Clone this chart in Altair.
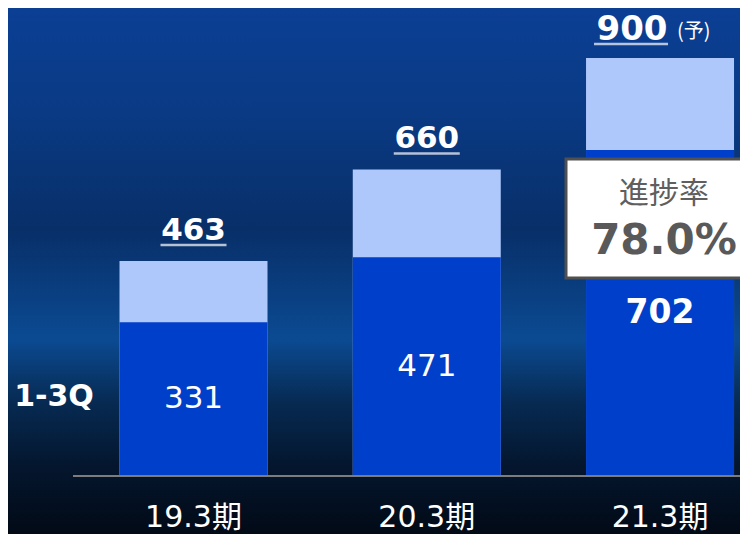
import altair as alt
import pandas as pd

# ---- data ----
periods = ["19.3期", "20.3期", "21.3期"]
q13_values = [331, 471, 702]
full_year_values = [463, 660, 900]
forecast_note = "(予)"
progress_title = "進捗率"
progress_value = "78.0%"
series_label = "1-3Q"

df = pd.DataFrame({
    "i": [0, 1, 2],
    "period": periods,
    "q": q13_values,
    "full": full_year_values,
})
one = pd.DataFrame({"k": [0]})

W, H = 732, 526
FONT = "DejaVu Sans, Noto Sans CJK JP, sans-serif"
CJK = "Noto Sans CJK JP, sans-serif"

xs = alt.Scale(domain=[-0.7738, 2.3214], nice=False, zero=False)
ys = alt.Scale(domain=[-124.9, 1007.7], nice=False, zero=False)
X = alt.X("i:Q", scale=xs, axis=None)

# background gradient
bg = alt.Chart(one).mark_rect(
    fill=alt.LinearGradient(
        gradient="linear",
        x1=0, x2=0, y1=0, y2=1,
        stops=[
            alt.GradientStop(color="#0b3f94", offset=0.0),
            alt.GradientStop(color="#0a3a84", offset=0.2),
            alt.GradientStop(color="#082f68", offset=0.42),
            alt.GradientStop(color="#0b4a92", offset=0.63),
            alt.GradientStop(color="#072a52", offset=0.75),
            alt.GradientStop(color="#04162e", offset=0.87),
            alt.GradientStop(color="#020a16", offset=1.0),
        ],
    )
).encode(x=alt.value(0), x2=alt.value(W), y=alt.value(0), y2=alt.value(H))

light = alt.Chart(df).mark_bar(size=148, color="#aec8fb").encode(
    x=X, y=alt.Y("full:Q", scale=ys, axis=None), y2=alt.datum(0)
)
dark = alt.Chart(df).mark_bar(size=148, color="#003fc9").encode(
    x=X, y=alt.Y("q:Q", scale=ys, axis=None), y2=alt.datum(0)
)

axis_rule = alt.Chart(one).mark_rule(color="#7c7c7c", strokeWidth=2).encode(
    x=alt.value(65), x2=alt.value(W), y=alt.Y(datum=0, scale=ys)
)

# inner labels
inner_base = alt.Chart(df).transform_calculate(mid="datum.q / 2")
inner = inner_base.transform_filter("datum.i < 2").mark_text(
    font=FONT, fontSize=31, color="white", baseline="middle"
).encode(x=X, y=alt.Y("mid:Q", scale=ys), text=alt.Text("q:Q"))
inner_last = inner_base.transform_filter("datum.i == 2").mark_text(
    font=FONT, fontSize=33, fontWeight="bold", color="white", baseline="middle"
).encode(x=X, y=alt.Y("mid:Q", scale=ys), text=alt.Text("q:Q"))

# top labels
top = alt.Chart(df).transform_filter("datum.i < 2").mark_text(
    font=FONT, fontSize=31, fontWeight="bold", color="white",
    baseline="alphabetic", dy=-21
).encode(x=X, y=alt.Y("full:Q", scale=ys), text=alt.Text("full:Q"))
top_ul = alt.Chart(df).transform_filter("datum.i < 2").mark_tick(
    orient="horizontal", size=66, thickness=2.5, color="white", yOffset=-16
).encode(x=X, y=alt.Y("full:Q", scale=ys))

top_last = alt.Chart(df).transform_filter("datum.i == 2").mark_text(
    font=FONT, fontSize=34, fontWeight="bold", color="white",
    baseline="alphabetic", dy=-18, dx=-28
).encode(x=X, y=alt.Y("full:Q", scale=ys), text=alt.Text("full:Q"))
top_last_ul = alt.Chart(df).transform_filter("datum.i == 2").mark_tick(
    orient="horizontal", size=74, thickness=2.5, color="white", yOffset=-14, xOffset=-29
).encode(x=X, y=alt.Y("full:Q", scale=ys))
note = alt.Chart(df).transform_filter("datum.i == 2").mark_text(
    font=CJK, fontSize=20, color="white", baseline="alphabetic",
    align="left", dy=-20, dx=17
).encode(x=X, y=alt.Y("full:Q", scale=ys), text=alt.value(forecast_note))

# progress box
box = alt.Chart(one).mark_rect(
    fill="white", stroke="#505050", strokeWidth=3
).encode(x=alt.value(558), x2=alt.value(760), y=alt.value(151), y2=alt.value(270))
box_t1 = alt.Chart(one).mark_text(
    font=CJK, fontSize=30, color="#5f5f5f", baseline="middle"
).encode(x=alt.value(656), y=alt.value(186), text=alt.value(progress_title))
box_t2 = alt.Chart(one).mark_text(
    font=FONT, fontSize=42, fontWeight="bold", color="#595959", baseline="middle"
).encode(x=alt.value(656), y=alt.value(233), text=alt.value(progress_value))

# series label and category labels
ser = alt.Chart(one).mark_text(
    font=FONT, fontSize=30, fontWeight="bold", color="white", baseline="middle"
).encode(x=alt.value(46), y=alt.value(389), text=alt.value(series_label))
cats = alt.Chart(df).mark_text(
    font=FONT, fontSize=30, color="white", baseline="alphabetic", dy=51
).encode(x=X, y=alt.Y(datum=0, scale=ys), text="period:N")

chart = alt.layer(
    bg, light, dark, axis_rule, inner, top, top_ul, top_last, top_last_ul, note,
    box, box_t1, box_t2, inner_last, ser, cats
).properties(
    width=W, height=H, padding=0, autosize=alt.AutoSizeParams(type="none"),
    background="#020a16"
).configure_view(stroke=None)

chart.save("out.html", embed_options={"renderer": "svg", "actions": False})
